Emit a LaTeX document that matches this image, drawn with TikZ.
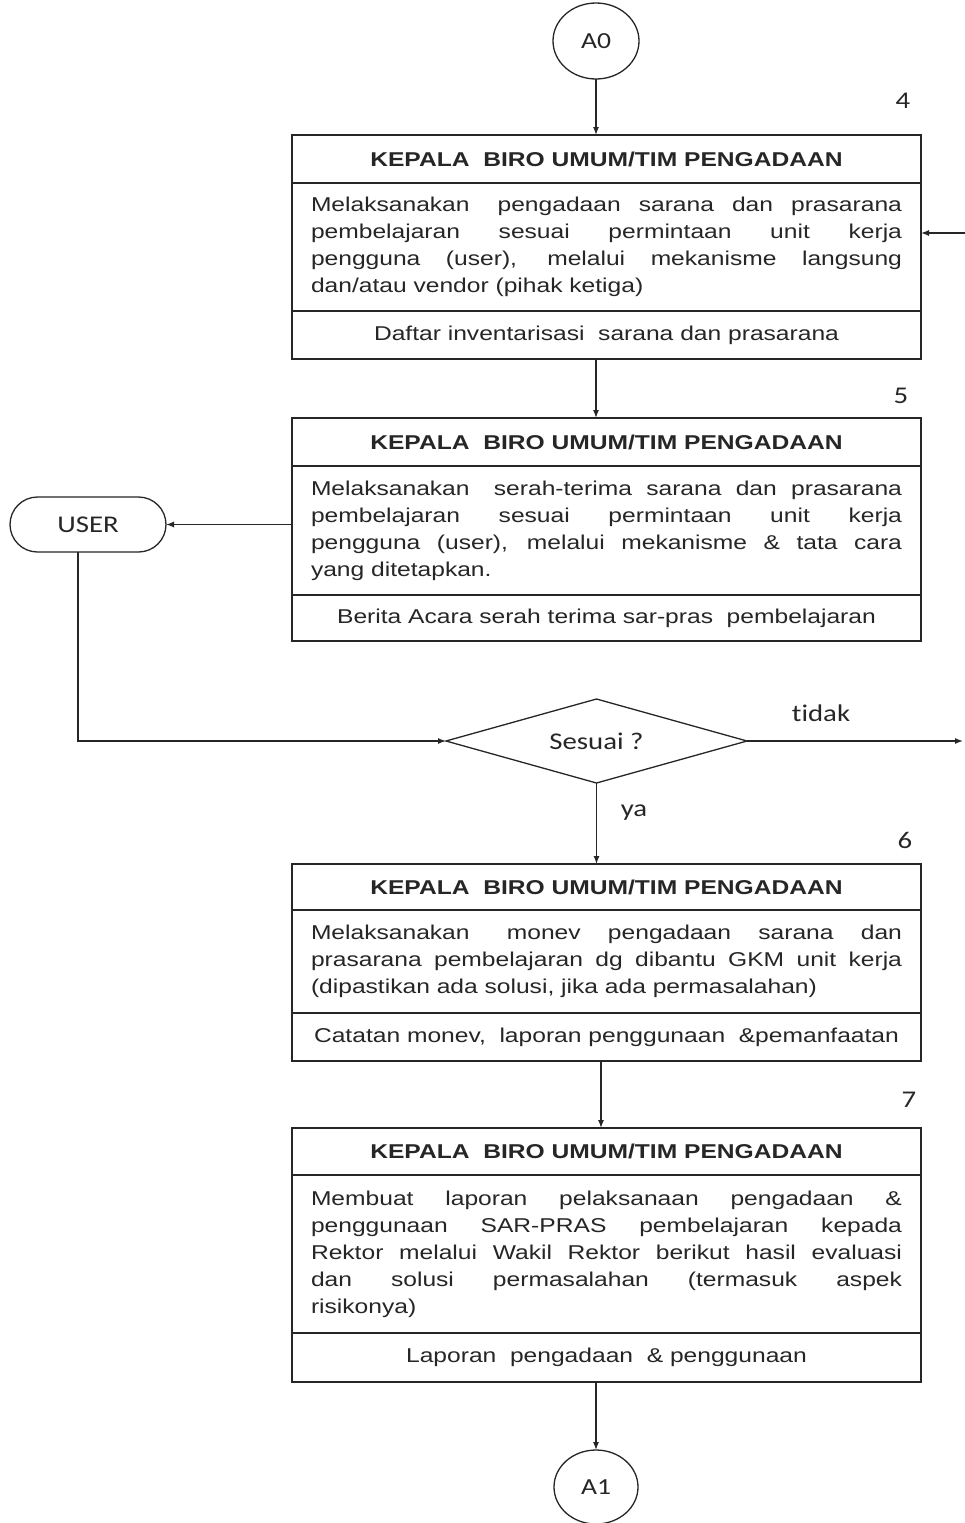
\documentclass[tikz,border=0pt]{standalone}
\usepackage{fontspec}
\setmainfont{Liberation Sans}
\newfontfamily\arialf[FakeStretch=1.23]{Liberation Sans}
\newfontfamily\calf[FakeStretch=1.2,Ligatures=NoCommon]{Carlito}
\usetikzlibrary{arrows.meta,shapes.geometric,shapes.misc}
\newcommand{\jl}[1]{{\spaceskip=0pt\xspaceskip=0pt\makebox[591pt][s]{#1}}}
\begin{document}
\begin{tikzpicture}[x=1pt,y=-1pt,
  line width=1.3pt, draw=black!85, text=black!85,
  hdr/.style={draw, rectangle, outer sep=0pt, inner sep=0pt, minimum width=629pt, anchor=north, font=\arialf\bfseries\fontsize{20}{24}\selectfont},
  bod/.style={draw, rectangle, outer sep=0pt, inner xsep=19pt, inner ysep=0pt, text width=591pt, minimum width=629pt, align=justify, anchor=north, font=\arialf\fontsize{20}{27}\selectfont},
  ftr/.style={hdr, font=\arialf\fontsize{20}{24}\selectfont},
  term/.style={draw, ellipse, inner sep=0pt, outer sep=0pt, font=\calf\fontsize{23}{26}\selectfont},
  lbl/.style={font=\calf\fontsize{24}{28}\selectfont},
  arr/.style={-{Latex[length=8pt,width=6pt]}},
]
\fill[white] (0,0) rectangle (964,1523);
\useasboundingbox (0,0) rectangle (964,1523);

% terminals
\node[term, minimum width=86pt, minimum height=76pt] (a0) at (596,41) {A0};
\node[term, minimum width=84pt, minimum height=74pt] (a1) at (596,1487) {A1};

% box 1
\node[hdr, minimum height=48pt] (h1) at (606.5,135) {KEPALA~~BIRO UMUM/TIM PENGADAAN};
\node[bod, minimum height=128pt] (b1) at (h1.south) {\jl{Melaksanakan\hspace{10pt} pengadaan sarana dan prasarana}\\
\jl{pembelajaran sesuai permintaan unit kerja}\\
\jl{pengguna (user), melalui mekanisme langsung}\\
dan/atau vendor (pihak ketiga)};
\node[ftr, minimum height=48pt] (f1) at (b1.south) {Daftar inventarisasi~~sarana dan prasarana};

% box 2
\node[hdr, minimum height=48pt] (h2) at (606.5,418) {KEPALA~~BIRO UMUM/TIM PENGADAAN};
\node[bod, minimum height=129pt] (b2) at (h2.south) {\jl{Melaksanakan\hspace{10pt} serah-terima sarana dan prasarana}\\
\jl{pembelajaran sesuai permintaan unit kerja}\\
\jl{pengguna (user), melalui mekanisme \& tata cara}\\
yang ditetapkan.};
\node[ftr, minimum height=46pt] (f2) at (b2.south) {Berita Acara serah terima sar-pras~~pembelajaran};

% box 3
\node[hdr, minimum height=46pt] (h3) at (606.5,864) {KEPALA~~BIRO UMUM/TIM PENGADAAN};
\node[bod, minimum height=103pt] (b3) at (h3.south) {\jl{Melaksanakan\hspace{10pt} monev pengadaan sarana dan}\\
\jl{prasarana pembelajaran dg dibantu GKM unit kerja}\\
(dipastikan ada solusi, jika ada permasalahan)};
\node[ftr, minimum height=48pt] (f3) at (b3.south) {Catatan monev,~~laporan penggunaan~~\&pemanfaatan};

% box 4
\node[hdr, minimum height=47pt] (h4) at (606.5,1128) {KEPALA~~BIRO UMUM/TIM PENGADAAN};
\node[bod, minimum height=158pt] (b4) at (h4.south) {\jl{Membuat laporan pelaksanaan pengadaan \&}\\
\jl{penggunaan SAR-PRAS pembelajaran kepada}\\
\jl{Rektor melalui Wakil Rektor berikut hasil evaluasi}\\
\jl{dan solusi permasalahan (termasuk aspek}\\
risikonya)};
\node[ftr, minimum height=49pt] (f4) at (b4.south) {Laporan~~pengadaan~~\& penggunaan};

% user and decision
\node[draw, rounded rectangle, minimum width=156pt, minimum height=55pt, inner sep=0pt, outer sep=0pt, lbl] (user) at (88,524.5) {USER};
\node[draw, diamond, aspect=3.6, minimum width=301pt, minimum height=84pt, inner sep=0pt, outer sep=0pt, lbl] (dia) at (596.5,741) {Sesuai ?};

% labels
\node[lbl] (n4) at (903,101) {4};
\node[lbl] (n5) at (901,396) {5};
\node[lbl] (n6) at (905,840) {6};
\node[lbl] (n7) at (909,1100) {7};
\node[lbl] (tidak) at (821,713) {tidak};
\node[lbl] (ya) at (634,813) {ya};

\coordinate (rt1) at (963,741);
\coordinate (rt2) at (966,233);

% connectors
\draw[arr] (a0.south) -- (a0.south |- h1.north);
\draw[arr] ([xshift=-10.5pt]f1.south) -- ([xshift=-10.5pt]h2.north);
\draw[arr] (b2.west |- user.east) -- (user.east);
\draw[arr] ([xshift=-10pt]user.south) |- (dia.west);
\draw[arr] (dia.east) -- (rt1);
\draw[arr] (rt2) -- (rt2 -| b1.east);
\draw[arr] (dia.south) -- (dia.south |- h3.north);
\draw[arr] ([xshift=-5.5pt]f3.south) -- ([xshift=-5.5pt]h4.north);
\draw[arr] ([xshift=-10.5pt]f4.south) -- (a1.north);
\end{tikzpicture}
\end{document}
